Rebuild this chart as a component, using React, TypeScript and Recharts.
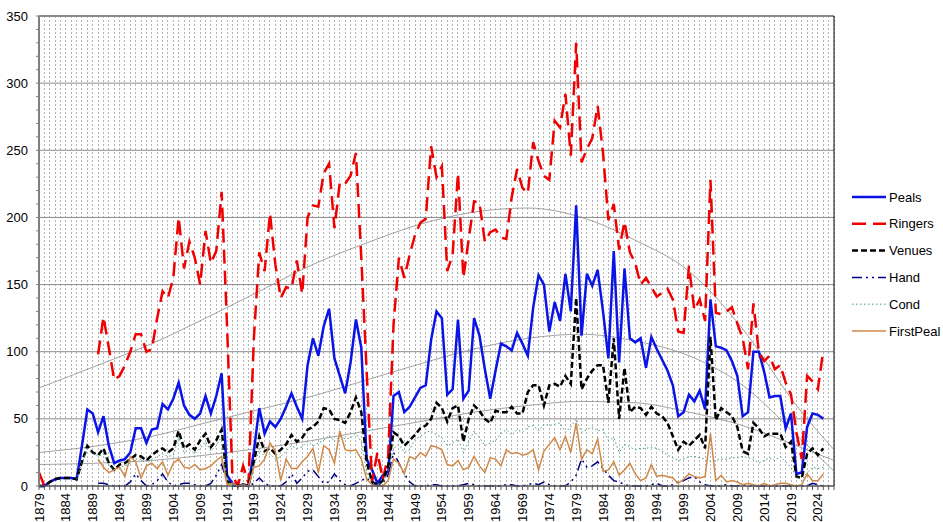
import { LineChart, Line, XAxis, YAxis, CartesianGrid, ReferenceLine } from "recharts";

// Annual peal statistics, 1879 - 2025 (one value per year)
const FIRST_YEAR = 1879;
const AXIS_END = 2027;

const PEALS = [
  0, 0, 3, 5, 6, 6, 6, 5, 30, 57, // 1879
  54, 40, 52, 30, 17, 19, 20, 25, 43, 43, // 1889
  32, 42, 43, 61, 57, 65, 77, 60, 53, 50, // 1899
  54, 67, 54, 67, 84, 8, 2, 0, 1, 0, // 1909
  26, 58, 39, 48, 44, 50, 59, 69, 59, 50, // 1919
  90, 110, 97, 119, 132, 95, 82, 69, 92, 124, // 1929
  103, 20, 12, 2, 8, 9, 67, 70, 55, 59, // 1939
  66, 73, 75, 109, 130, 125, 68, 72, 124, 65, // 1949
  71, 125, 112, 87, 65, 86, 106, 104, 101, 114, // 1959
  106, 97, 133, 157, 150, 115, 137, 123, 158, 130, // 1969
  209, 112, 158, 149, 161, 130, 95, 175, 92, 162, // 1979
  110, 107, 110, 88, 111, 102, 94, 86, 75, 52, // 1989
  55, 68, 63, 71, 57, 139, 104, 103, 101, 93, // 1999
  82, 52, 55, 100, 100, 85, 66, 67, 67, 43, // 2009
  54, 9, 10, 44, 54, 53, 50, // 2019
];

const RINGERS = [
  10, 0, null, null, null, null, null, null, null, null, // 1879
  null, 98, 126, 103, 79, 82, 90, 100, 113, 113, // 1889
  100, 102, 125, 145, 140, 155, 200, 162, 182, 170, // 1899
  150, 190, 166, 175, 219, 120, 8, 0, 15, 2, // 1909
  110, 174, 160, 203, 165, 140, 148, 147, 168, 143, // 1919
  200, 209, 208, 233, 240, 192, 226, 225, 231, 248, // 1929
  170, 85, 3, 25, 5, 22, 120, 170, 155, 172, // 1939
  187, 196, 199, 253, 230, 238, 160, 172, 233, 155, // 1949
  184, 212, 211, 182, 189, 191, 185, 184, 215, 236, // 1959
  222, 218, 256, 242, 231, 228, 272, 267, 292, 246, // 1969
  330, 241, 251, 259, 283, 248, 198, 210, 176, 197, // 1979
  174, 166, 150, 155, 148, 141, 144, 147, 139, 115, // 1989
  114, 164, 131, 139, 123, 228, 129, 128, 130, 133, // 1999
  121, 110, 87, 136, 100, 93, 97, 87, 90, 77, // 2009
  68, 40, 20, 82, 78, 72, 101, // 2019
];

const VENUES = [
  0, 0, 3, 5, 6, 6, 6, 5, 18, 30, // 1879
  25, 23, 28, 17, 12, 16, 17, 20, 23, 22, // 1889
  19, 23, 26, 28, 25, 28, 41, 28, 31, 27, // 1899
  34, 39, 29, 34, 42, 4, 1, 0, 1, 0, // 1909
  18, 37, 26, 28, 24, 27, 31, 38, 33, 36, // 1919
  42, 44, 48, 58, 57, 50, 49, 47, 55, 66, // 1929
  55, 18, 3, 1, 4, 15, 40, 37, 30, 34, // 1939
  38, 43, 45, 50, 62, 58, 48, 58, 60, 33, // 1949
  50, 60, 56, 50, 47, 56, 55, 55, 59, 54, // 1959
  54, 70, 75, 75, 60, 75, 76, 74, 82, 76, // 1969
  140, 72, 80, 86, 90, 90, 62, 110, 50, 88, // 1979
  55, 59, 58, 53, 59, 54, 52, 47, 37, 27, // 1989
  33, 30, 34, 38, 28, 111, 49, 58, 55, 52, // 1999
  44, 26, 24, 47, 43, 37, 39, 39, 39, 29, // 2009
  33, 7, 6, 24, 28, 23, 28, // 2019
];

const HAND = [
  null, null, null, null, null, null, null, null, null, null, // 1879
  null, 2, 2, 1, 0, 0, 0, 3, 9, 4, // 1889
  0, 1, 4, 9, 3, 0, 1, 2, 2, 1, // 1899
  0, 0, 2, 8, 16, 3, 0, 0, 0, 0, // 1909
  2, 6, 2, 0, 0, 0, 3, 9, 2, 6, // 1919
  11, 12, 7, 2, 3, 9, 4, 1, 0, 2, // 1929
  4, 6, 2, 0, 2, 8, 25, 17, 9, 3, // 1939
  0, 0, 0, 1, 1, 0, 0, 0, 0, 1, // 1949
  2, 1, 0, 0, 0, 0, 0, 1, 1, 0, // 1959
  0, 1, 2, 1, 3, 1, 0, 0, 0, 3, // 1969
  8, 20, 14, 15, 18, 13, 8, 4, 3, 1, // 1979
  0, 0, 0, 0, 1, 2, 0, 0, 1, 3, // 1989
  4, 6, 7, 3, 1, 0, 0, 0, 1, 0, // 1999
  0, 1, 0, 0, 0, 0, 0, 0, 0, 0, // 2009
  0, 0, 0, 0, 2, 1, 0, // 2019
];

const COND = [
  null, null, null, null, null, null, null, 5, 17, 28, // 1879
  25, 22, 24, 16, 12, 14, 15, 17, 20, 20, // 1889
  16, 20, 22, 24, 22, 23, 36, 25, 27, 24, // 1899
  28, 33, 26, 30, 37, 3, 1, 0, 1, 0, // 1909
  15, 27, 22, 24, 20, 22, 26, 30, 28, 29, // 1919
  33, 30, 32, 34, 38, 33, 37, 35, 36, 39, // 1929
  33, 10, 2, 1, 2, 10, 28, 31, 25, 27, // 1939
  35, 37, 40, 41, 38, 36, 30, 32, 35, 25, // 1949
  33, 41, 36, 30, 32, 34, 39, 42, 38, 42, // 1959
  40, 44, 45, 41, 46, 45, 46, 47, 40, 44, // 1969
  50, 40, 42, 44, 41, 42, 34, 36, 25, 31, // 1979
  29, 27, 28, 28, 29, 28, 26, 23, 21, 19, // 1989
  20, 22, 22, 21, 20, 18, 19, 20, 20, 21, // 1999
  21, 22, 21, 20, 17, 19, 21, 19, 22, 18, // 2009
  14, 7, 4, 10, 14, 13, 14, // 2019
];

const FIRST_PEAL = [
  null, null, null, null, null, null, null, null, null, null, // 1879
  null, 20, 14, 10, 12, 14, 7, 22, 18, 6, // 1889
  15, 17, 13, 18, 8, 17, 20, 14, 13, 16, // 1899
  12, 13, 15, 19, 22, 1, 2, 0, 1, 0, // 1909
  14, 15, 20, 32, 26, 4, 20, 13, 13, 18, // 1919
  22, 28, 10, 30, 27, 17, 41, 27, 26, 27, // 1929
  20, 5, 1, 0, 0, 4, 20, 17, 9, 22, // 1939
  20, 25, 22, 30, 29, 27, 16, 15, 19, 12, // 1949
  14, 22, 15, 10, 21, 20, 15, 27, 24, 25, // 1959
  23, 24, 27, 12, 26, 31, 36, 27, 37, 25, // 1969
  47, 20, 27, 24, 35, 11, 12, 18, 8, 12, // 1979
  17, 9, 4, 6, 16, 7, 8, 7, 6, 2, // 1989
  5, 9, 7, 6, 7, 39, 4, 8, 3, 4, // 1999
  3, 1, 2, 1, 0, 2, 0, 1, 2, 2, // 2009
  1, 0, 1, 9, 4, 4, 9, // 2019
];

// grey trend curves, read at a few years
const TREND_YEARS = [1879, 1890, 1900, 1910, 1920, 1930, 1940, 1950, 1960, 1970, 1980, 1990, 2000, 2010, 2020, 2027];
const RINGERS_TREND = [73, 90, 106, 125, 145, 165, 181, 195, 204, 207, 200, 183, 160, 117, 60, 27];
const PEALS_TREND = [25, 30, 37, 47, 57, 67, 79, 91, 102, 110, 113, 108, 97, 75, 38, 11];
const VENUES_TREND = [16, 17, 19, 23, 28, 34, 41, 48, 55, 60, 63, 62, 55, 45, 30, 19];

const X_LABELS = [
  1879, 1884, 1889, 1894, 1899, 1904, 1909, 1914, 1919, 1924, 1929, 1934, 1939, 1944, 1949,
  1954, 1959, 1964, 1969, 1974, 1979, 1984, 1989, 1994, 1999, 2004, 2009, 2014, 2019, 2024,
];
const Y_TICKS = [
  0, 10, 20, 30, 40, 50, 60, 70, 80, 90, 100, 110, 120, 130, 140, 150, 160, 170, 180, 190,
  200, 210, 220, 230, 240, 250, 260, 270, 280, 290, 300, 310, 320, 330, 340, 350,
];
const Y_GRID = [50, 100, 150, 200, 250, 300];

const FONT = '"Liberation Sans", Arial, sans-serif';

const SERIES = [
  { key: "peals", name: "Peals", values: PEALS, color: "#0A14E6", width: 2.5, dash: undefined },
  { key: "ringers", name: "Ringers", values: RINGERS, color: "#F00000", width: 2.5, dash: "14 7" },
  { key: "venues", name: "Venues", values: VENUES, color: "#000000", width: 2.5, dash: "6 3" },
  { key: "hand", name: "Hand", values: HAND, color: "#000080", width: 1.5, dash: "10 4 2 4 2 4" },
  { key: "cond", name: "Cond", values: COND, color: "#3A9A78", width: 1, dash: "1.5 2.5" },
  { key: "firstPeal", name: "FirstPeal", values: FIRST_PEAL, color: "#D08848", width: 1.5, dash: undefined },
];

const TRENDS = [
  { key: "ringersTrend", values: RINGERS_TREND },
  { key: "pealsTrend", values: PEALS_TREND },
  { key: "venuesTrend", values: VENUES_TREND },
];

const ALL_YEARS: number[] = [];
for (let y = FIRST_YEAR; y <= AXIS_END; y++) ALL_YEARS.push(y);

const DATA = ALL_YEARS.map((year) => {
  const row: Record<string, number | null> = { year };
  SERIES.forEach((s) => {
    const v = s.values[year - FIRST_YEAR];
    row[s.key] = v === undefined ? null : v;
  });
  TRENDS.forEach((t) => {
    const i = TREND_YEARS.indexOf(year);
    row[t.key] = i >= 0 ? t.values[i] : null;
  });
  return row;
});

const YearTick = ({ x, y, payload }: any) => {
  if (!X_LABELS.includes(payload.value)) return <g />;
  return (
    <text
      x={x}
      y={y + 1}
      dy={4.5}
      transform={`rotate(-90, ${x}, ${y + 1})`}
      textAnchor="end"
      fontSize={13}
      fontFamily={FONT}
      fill="#000"
    >
      {payload.value}
    </text>
  );
};

const ValueTick = ({ x, y, payload }: any) => {
  if (payload.value % 50 !== 0) return <g />;
  return (
    <text x={x} y={y} dy={4.5} textAnchor="end" fontSize={13} fontFamily={FONT} fill="#000">
      {payload.value}
    </text>
  );
};

const LEGEND_TOP = 197;
const LEGEND_STEP = 26.8;

export default function App() {
  return (
    <div
      style={{
        position: "fixed",
        left: 0,
        top: 0,
        width: 943,
        height: 522,
        background: "#fff",
        overflow: "hidden",
      }}
    >
      <LineChart
        width={943}
        height={522}
        data={DATA}
        margin={{ top: 16, right: 109, bottom: 0, left: 0 }}
      >
        <CartesianGrid
          horizontal={false}
          vertical
          stroke="#b4b4b4"
          strokeDasharray="2 2"
          shapeRendering="crispEdges"
        />
        {Y_GRID.map((v) => (
          <ReferenceLine key={v} y={v} stroke="#8a8a8a" strokeWidth={1} />
        ))}
        <ReferenceLine y={350} stroke="#8a8a8a" strokeWidth={2} />
        <ReferenceLine x={AXIS_END} stroke="#000" strokeWidth={1} />
        <XAxis
          dataKey="year"
          type="number"
          domain={[FIRST_YEAR, AXIS_END]}
          ticks={ALL_YEARS}
          interval={0}
          height={36}
          tickSize={4}
          tickMargin={2}
          tick={<YearTick />}
          axisLine={{ stroke: "#555", strokeWidth: 1.5 }}
          tickLine={{ stroke: "#555" }}
        />
        <YAxis
          type="number"
          domain={[0, 350]}
          ticks={Y_TICKS}
          interval={0}
          width={39}
          tickSize={3}
          tickMargin={8}
          tick={<ValueTick />}
          axisLine={{ stroke: "#808080", strokeWidth: 2 }}
          tickLine={{ stroke: "#808080" }}
        />
        {TRENDS.map((t) => (
          <Line
            key={t.key}
            dataKey={t.key}
            type="monotone"
            connectNulls
            stroke="#8c8c8c"
            strokeWidth={0.8}
            dot={false}
            activeDot={false}
            isAnimationActive={false}
          />
        ))}
        {SERIES.map((s) => (
          <Line
            key={s.key}
            dataKey={s.key}
            name={s.name}
            type="linear"
            stroke={s.color}
            strokeWidth={s.width}
            strokeDasharray={s.dash}
            dot={false}
            activeDot={false}
            isAnimationActive={false}
          />
        ))}
      </LineChart>

      <svg
        width={943}
        height={522}
        style={{ position: "absolute", left: 0, top: 0, pointerEvents: "none" }}
      >
        {SERIES.map((s, i) => {
          const y = LEGEND_TOP + i * LEGEND_STEP;
          return (
            <g key={s.key}>
              <line
                x1={852}
                x2={886}
                y1={y}
                y2={y}
                stroke={s.color}
                strokeWidth={s.width}
                strokeDasharray={s.dash}
              />
              <text x={889} y={y} dy={4.5} fontSize={13} fontFamily={FONT} fill="#000">
                {s.name}
              </text>
            </g>
          );
        })}
      </svg>
    </div>
  );
}
